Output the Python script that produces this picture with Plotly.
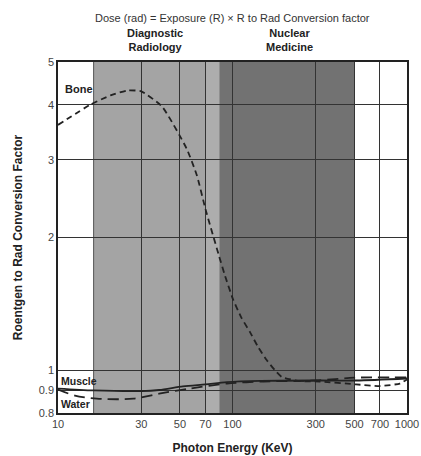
import plotly.graph_objects as go

# ---- data ----
bone_energy = [10, 15.3, 20, 25, 30, 39.5, 54.6, 62.6, 70, 83.6, 90.5, 100.6, 112, 126, 140, 157, 175, 192, 243, 316, 510, 700, 910, 1000]
bone_factor = [3.60, 4.0, 4.2, 4.31, 4.29, 3.96, 3.18, 2.76, 2.32, 1.82, 1.64, 1.45, 1.32, 1.22, 1.13, 1.055, 1.0, 0.965, 0.945, 0.943, 0.929, 0.921, 0.933, 0.953]

muscle_energy = [10, 16, 30, 38, 52, 70, 93, 145, 316, 510, 1000]
muscle_factor = [0.909, 0.900, 0.897, 0.902, 0.919, 0.929, 0.940, 0.946, 0.948, 0.948, 0.958]

water_energy = [10, 12.5, 16.7, 27, 38, 57, 93, 150, 300, 500, 1000]
water_factor = [0.904, 0.876, 0.862, 0.862, 0.885, 0.909, 0.933, 0.943, 0.948, 0.962, 0.963]

x_ticks = [10, 30, 50, 70, 100, 300, 500, 700, 1000]
y_ticks = [0.8, 0.9, 1, 2, 3, 4, 5]

diag_range = [16, 84]
nuc_range = [84, 500]
diag_light_range = [70, 84]

FONT = "Liberation Sans, Arial, sans-serif"
LINE = "#222222"

fig = go.Figure()

fig.add_trace(go.Scatter(x=bone_energy, y=bone_factor, mode="lines",
                         line=dict(color=LINE, width=1.8, dash="6px,4px", shape="spline", smoothing=0.5),
                         showlegend=False, hoverinfo="skip"))
fig.add_trace(go.Scatter(x=water_energy, y=water_factor, mode="lines",
                         line=dict(color=LINE, width=1.8, dash="11px,6px", shape="spline", smoothing=0.8),
                         showlegend=False, hoverinfo="skip"))
fig.add_trace(go.Scatter(x=muscle_energy, y=muscle_factor, mode="lines",
                         line=dict(color=LINE, width=1.8, shape="spline", smoothing=0.8),
                         showlegend=False, hoverinfo="skip"))

# shaded regions
fig.add_vrect(x0=diag_range[0], x1=diag_range[1], fillcolor="#a4a4a4", line_width=0, layer="below")
fig.add_vrect(x0=diag_light_range[0], x1=diag_light_range[1], fillcolor="#adadad", line_width=0, layer="below")
fig.add_vrect(x0=nuc_range[0], x1=nuc_range[1], fillcolor="#727272", line_width=0, layer="below")
fig.add_vline(x=diag_range[0], line=dict(color="#555555", width=1), layer="below")

# annotations
fig.add_annotation(text="Dose (rad) = Exposure (R) \u00d7 R to Rad Conversion factor",
                   xref="paper", yref="paper", x=0.5, y=1, yshift=44, showarrow=False,
                   font=dict(family=FONT, size=11, color="#333333"), yanchor="middle")
fig.add_annotation(text="<b>Diagnostic<br>Radiology</b>", xref="x", yref="paper",
                   x=1.555, y=1, yshift=22, showarrow=False, yanchor="middle",
                   font=dict(family=FONT, size=11, color="#222222"))
fig.add_annotation(text="<b>Nuclear<br>Medicine</b>", xref="x", yref="paper",
                   x=2.324, y=1, yshift=22, showarrow=False, yanchor="middle",
                   font=dict(family=FONT, size=11, color="#222222"))
fig.add_annotation(text="<b>Bone</b>", xref="paper", yref="paper", x=0.014, y=0.924,
                   xanchor="left", yanchor="middle", showarrow=False,
                   font=dict(family=FONT, size=11, color="#222222"))
fig.add_annotation(text="<b>Muscle</b>", xref="paper", yref="paper", x=0.002, y=0.092,
                   xanchor="left", yanchor="middle", showarrow=False,
                   font=dict(family=FONT, size=10.5, color="#222222"))
fig.add_annotation(text="<b>Water</b>", xref="paper", yref="paper", x=0.004, y=0.026,
                   xanchor="left", yanchor="middle", showarrow=False,
                   font=dict(family=FONT, size=10.5, color="#222222"))

fig.update_layout(
    width=421, height=456,
    margin=dict(l=58, r=14, t=62, b=43, autoexpand=False),
    paper_bgcolor="white", plot_bgcolor="white",
    font=dict(family=FONT, size=11, color="#444444"),
    showlegend=False,
)
fig.update_xaxes(type="log", range=[1, 3], tickvals=x_ticks, ticktext=[str(v) for v in x_ticks],
                 showgrid=True, gridcolor="#333333", gridwidth=1,
                 showline=True, linecolor="#222222", linewidth=1.5, mirror=True,
                 ticks="", zeroline=False, automargin=False,
                 title=dict(text="<b>Photon Energy (KeV)</b>", font=dict(family=FONT, size=12, color="#222222"), standoff=15),
                 tickfont=dict(family=FONT, size=11, color="#444444"))
fig.update_yaxes(type="log", range=[-0.09691, 0.69897], tickvals=y_ticks, ticktext=[str(v) for v in y_ticks],
                 showgrid=True, gridcolor="#333333", gridwidth=1,
                 showline=True, linecolor="#222222", linewidth=1.5, mirror=True,
                 ticks="", zeroline=False, automargin=False,
                 title=dict(text="<b>Roentgen to Rad Conversion Factor</b>", font=dict(family=FONT, size=12, color="#222222"), standoff=14),
                 tickfont=dict(family=FONT, size=11, color="#444444"))

fig.write_html("out.html", config={"displayModeBar": False},
               post_script="document.body.style.margin='0';document.body.style.overflow='hidden';")
